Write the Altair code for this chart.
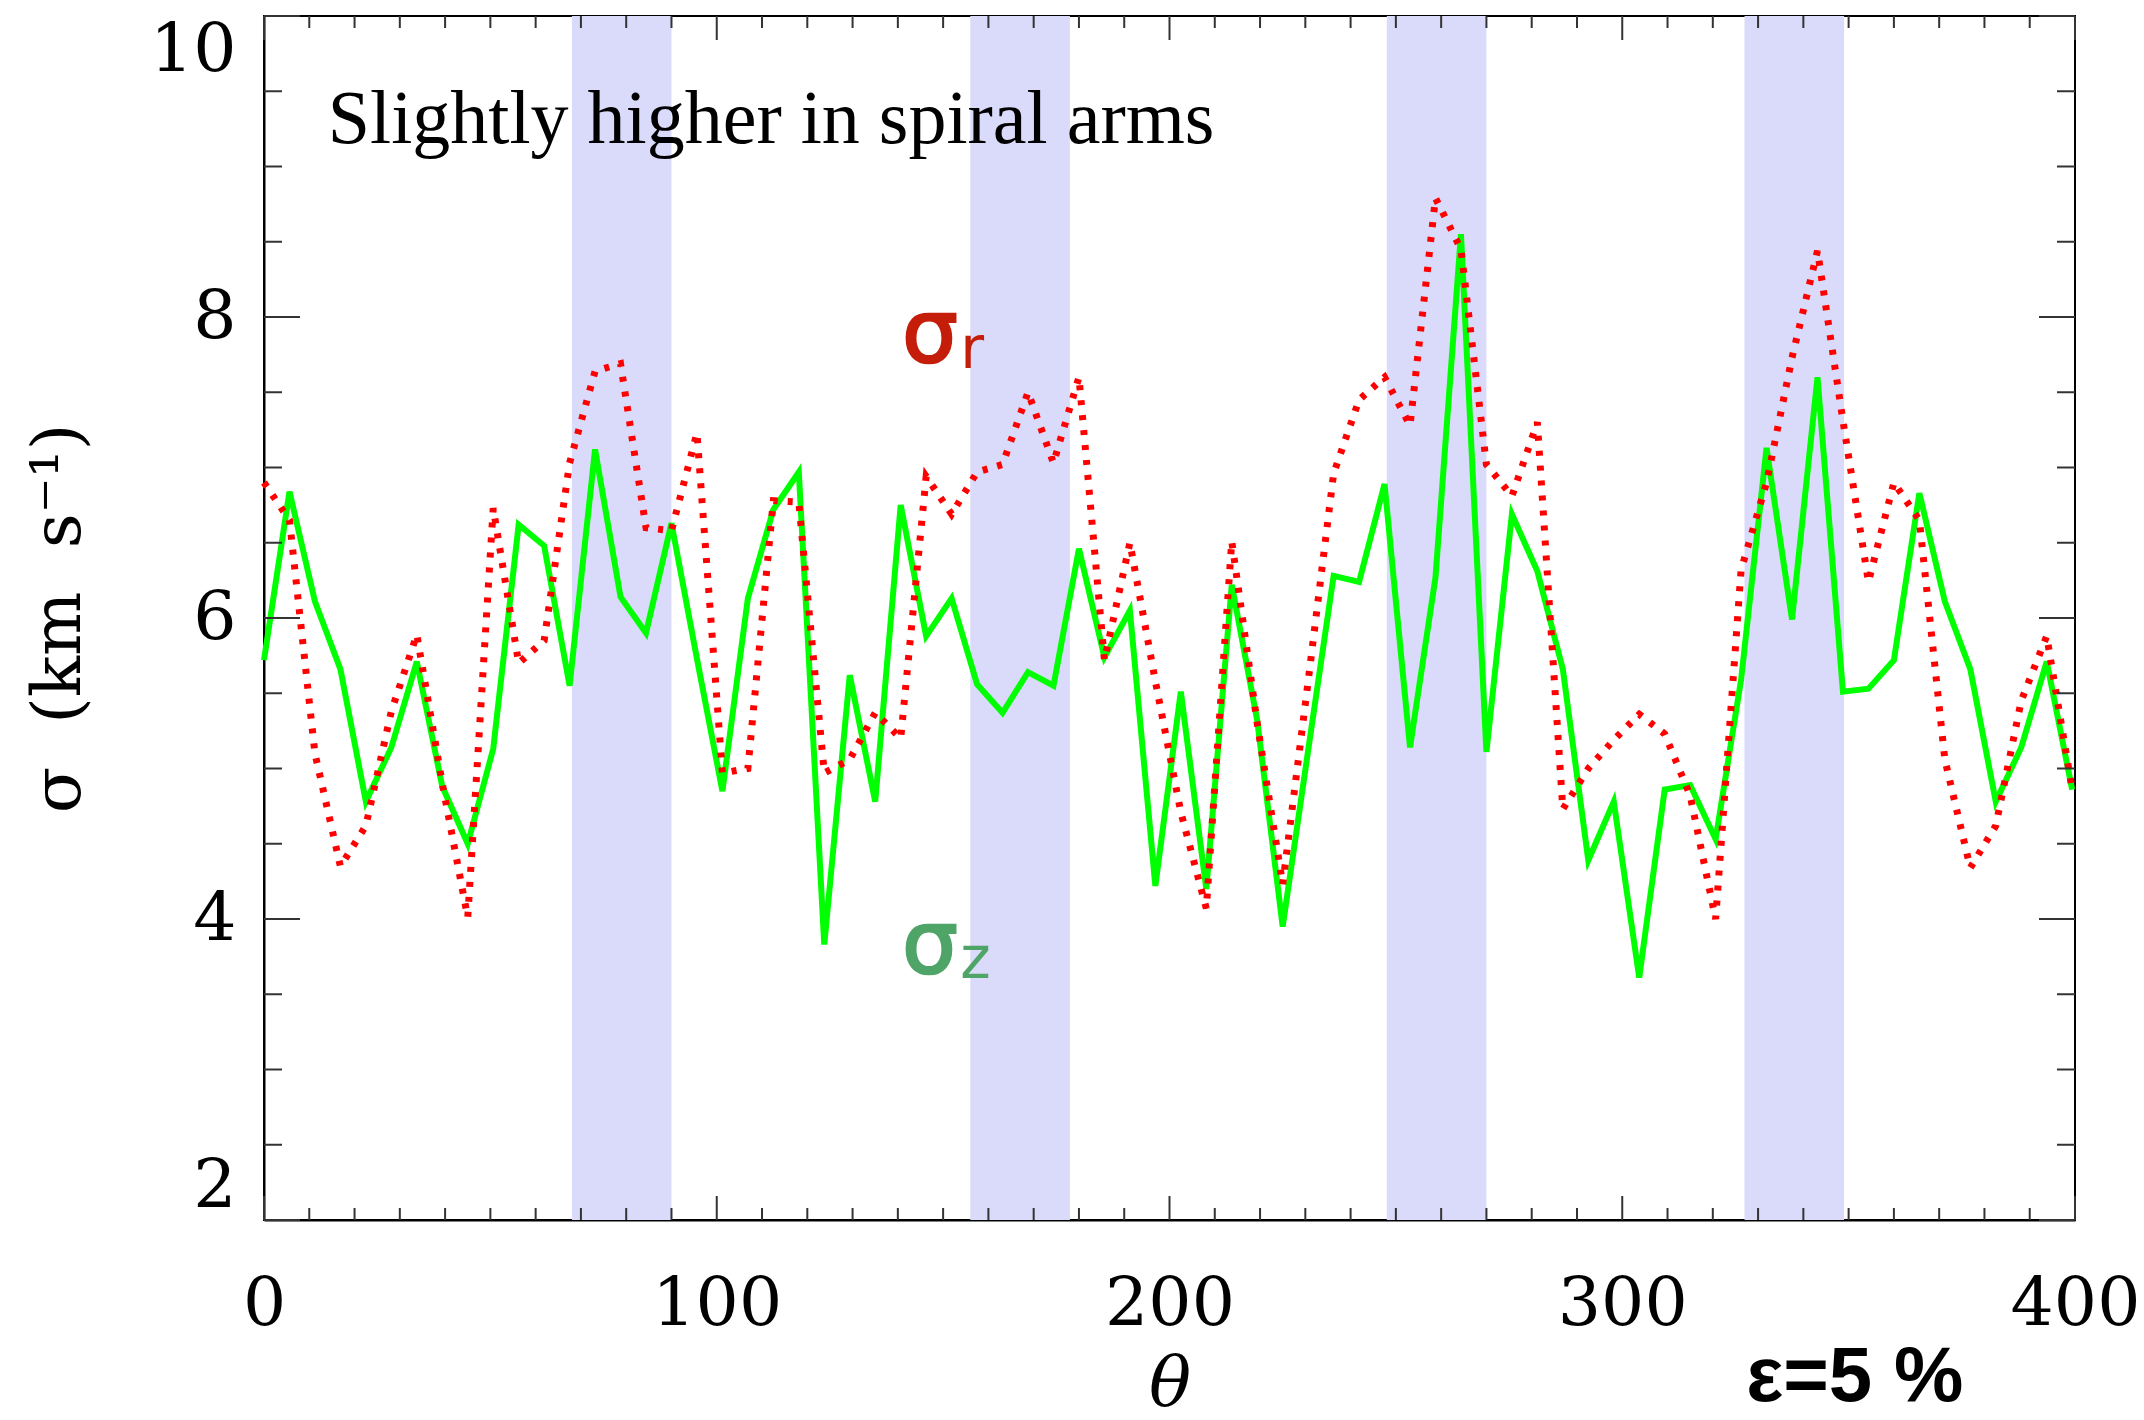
import altair as alt
import pandas as pd

# ---------------- data ----------------
theta_step = 5.625          # bin width in degrees (64 bins per 360)
n_points = 72
theta = [i * theta_step for i in range(n_points)]

sigma_z = [5.72, 6.84, 6.11, 5.66, 4.78, 5.14, 5.71, 4.88, 4.50, 5.13,
           6.62, 6.48, 5.55, 7.12, 6.14, 5.90, 6.63, 5.73, 4.85, 6.13,
           6.72, 6.97, 3.83, 5.62, 4.78, 6.75, 5.88, 6.13, 5.56, 5.37,
           5.64, 5.55, 6.46, 5.74, 6.05, 4.22, 5.51, 4.20, 6.22, 5.32,
           3.95, 5.12, 6.28, 6.24, 6.89, 5.14, 6.27, 8.55, 5.11, 6.69,
           6.31, 5.66, 4.39, 4.78, 3.61, 4.86, 4.89, 4.53, 5.59, 7.13,
           5.99, 7.60, 5.51, 5.53, 5.72, 6.83, 6.11, 5.66, 4.78, 5.14,
           5.71, 4.86]

sigma_r = [6.90, 6.65, 5.10, 4.35, 4.62, 5.38, 5.89, 4.90, 4.01, 6.73,
           5.70, 5.85, 7.03, 7.64, 7.69, 6.60, 6.58, 7.23, 4.97, 5.00,
           6.78, 6.77, 4.97, 5.06, 5.37, 5.20, 6.94, 6.69, 6.97, 7.02,
           7.50, 7.03, 7.60, 5.72, 6.50, 5.58, 4.71, 4.07, 6.51, 5.30,
           4.23, 5.58, 6.96, 7.45, 7.60, 7.28, 8.79, 8.45, 7.02, 6.81,
           7.30, 4.73, 5.00, 5.19, 5.36, 5.23, 4.82, 4.00, 6.32, 6.90,
           7.73, 8.44, 7.31, 6.24, 6.90, 6.65, 5.06, 4.34, 4.62, 5.45,
           5.88, 4.86]

arm_start = [68, 156, 248, 327]
arm_end = [90, 178, 270, 349]

x_major = [0, 100, 200, 300, 400]
y_major = [2, 4, 6, 8, 10]
x_minor_step = 10
y_minor_step = 0.5

NB = "\u00a0"
y_title = "σ" + NB * 2 + "(km" + NB * 2 + "s⁻¹)"

# ---------------- layout ----------------
W, H = 1811, 1204
X_DOM = [0, 400]
Y_DOM = [2, 10]
px_per_x = W / (X_DOM[1] - X_DOM[0])
px_per_y = H / (Y_DOM[1] - Y_DOM[0])

xs = alt.Scale(domain=X_DOM, nice=False, zero=False)
ys = alt.Scale(domain=Y_DOM, nice=False, zero=False)

lines = pd.DataFrame({"theta": theta, "sz": sigma_z, "sr": sigma_r})
bands = pd.DataFrame({"a": arm_start, "b": arm_end,
                      "lo": [Y_DOM[0]] * len(arm_start),
                      "hi": [Y_DOM[1]] * len(arm_start)})

# inward tick marks on all four sides (IDL style)
tick_rows = []
xmaj_len, xmin_len = 24 / px_per_y, 12 / px_per_y
ymaj_len, ymin_len = 36 / px_per_x, 18 / px_per_x
v = X_DOM[0]
while v <= X_DOM[1] + 1e-9:
    L = xmaj_len if v in x_major else xmin_len
    tick_rows.append({"x": v, "x2": v, "y": Y_DOM[0], "y2": Y_DOM[0] + L})
    tick_rows.append({"x": v, "x2": v, "y": Y_DOM[1], "y2": Y_DOM[1] - L})
    v += x_minor_step
v = Y_DOM[0]
while v <= Y_DOM[1] + 1e-9:
    L = ymaj_len if v in y_major else ymin_len
    tick_rows.append({"x": X_DOM[0], "x2": X_DOM[0] + L, "y": v, "y2": v})
    tick_rows.append({"x": X_DOM[1], "x2": X_DOM[1] - L, "y": v, "y2": v})
    v += y_minor_step
ticks = pd.DataFrame(tick_rows)

x_axis = alt.Axis(values=x_major, ticks=False, grid=False, domain=True,
                  domainColor="black", domainWidth=2, format="d",
                  labelFont="DejaVu Serif", labelFontSize=68,
                  labelColor="black", labelPadding=50,
                  labelFlush=False, labelOverlap=False,
                  title="θ", titleFont="DejaVu Serif",
                  titleFontStyle="italic", titleFontWeight="normal",
                  titleFontSize=70, titleColor="black", titlePadding=12)
y_axis = alt.Axis(values=y_major, ticks=False, grid=False, domain=True,
                  domainColor="black", domainWidth=2, format="d",
                  labelFont="DejaVu Serif", labelFontSize=68,
                  labelColor="black", labelPadding=28,
                  labelFlush=True, labelOverlap=False,
                  title=y_title, titleFont="DejaVu Serif",
                  titleFontWeight="normal", titleFontSize=68,
                  titleColor="black", titlePadding=56)

# first layer carries the axes; the others only share the scales
band_layer = alt.Chart(bands).mark_rect(color="#dadafa", opacity=1).encode(
    x=alt.X("a:Q", scale=xs, axis=x_axis), x2="b:Q",
    y=alt.Y("hi:Q", scale=ys, axis=y_axis), y2="lo:Q")

base = alt.Chart(lines)
green = base.mark_line(color="#00ff00", strokeWidth=6, strokeJoin="miter").encode(
    x=alt.X("theta:Q", scale=xs),
    y=alt.Y("sz:Q", scale=ys))

red = base.mark_line(color="#ff0000", strokeWidth=7, strokeDash=[5, 10],
                     strokeCap="butt").encode(
    x=alt.X("theta:Q", scale=xs),
    y=alt.Y("sr:Q", scale=ys))

tick_layer = alt.Chart(ticks).mark_rule(color="#333333", strokeWidth=2).encode(
    x=alt.X("x:Q", scale=xs), x2="x2:Q",
    y=alt.Y("y:Q", scale=ys), y2="y2:Q")

def label(df, **mk):
    return alt.Chart(pd.DataFrame(df)).mark_text(**mk).encode(
        x=alt.X("x:Q", scale=xs),
        y=alt.Y("y:Q", scale=ys),
        text="t:N")

note = label({"x": [14.1], "y": [9.154], "t": ["Slightly higher in spiral arms"]},
             font="Liberation Serif", fontSize=76, align="left",
             baseline="alphabetic", color="black")
sr_main = label({"x": [140.9], "y": [7.70], "t": ["σ"]},
                font="DejaVu Sans", fontSize=88, align="left",
                baseline="alphabetic", color="#c41e0a",
                stroke="#c41e0a", strokeWidth=2.5)
sr_sub = label({"x": [153.8], "y": [7.66], "t": ["r"]},
               font="DejaVu Sans", fontSize=58, align="left",
               baseline="alphabetic", color="#c41e0a")
sz_main = label({"x": [140.9], "y": [3.64], "t": ["σ"]},
                font="DejaVu Sans", fontSize=88, align="left",
                baseline="alphabetic", color="#4fa468",
                stroke="#4fa468", strokeWidth=2.5)
sz_sub = label({"x": [153.8], "y": [3.61], "t": ["z"]},
               font="DejaVu Sans", fontSize=58, align="left",
               baseline="alphabetic", color="#4fa468")
eps = label({"x": [327.4], "y": [0.80], "t": ["ε=5 %"]},
            font="Liberation Sans", fontSize=78, fontWeight="bold",
            align="left", baseline="alphabetic", color="black")

chart = alt.layer(band_layer, green, red, tick_layer, note,
                  sr_main, sr_sub, sz_main, sz_sub, eps).properties(
    width=W, height=H,
    autosize=alt.AutoSizeParams(type="none"),
    padding={"left": 264, "top": 16, "right": 69, "bottom": 200},
    background="white",
).configure_view(stroke="black", strokeWidth=2)

chart.save("out.html", embed_options={"renderer": "svg", "actions": False})
